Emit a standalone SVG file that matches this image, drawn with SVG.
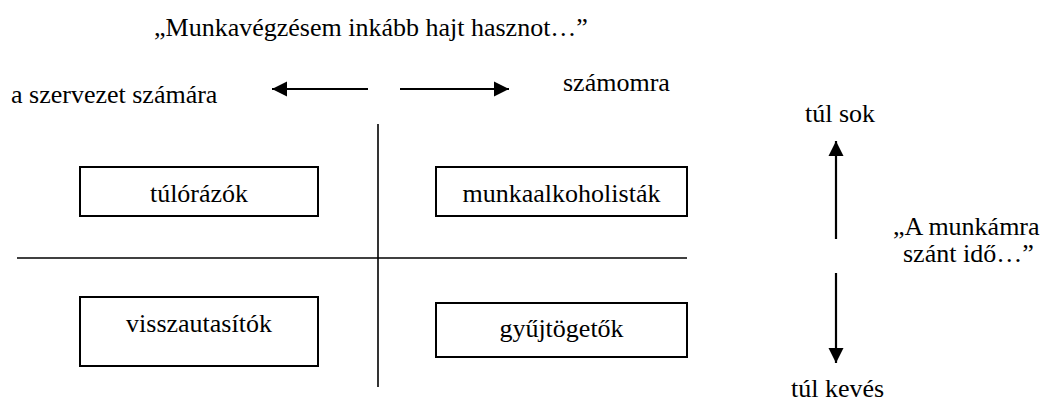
<svg xmlns="http://www.w3.org/2000/svg" width="1048" height="403" viewBox="0 0 1048 403">
  <style>
    .box { fill: #fff; stroke: #000; stroke-width: 2; }
    .axis { stroke: #000; stroke-width: 1.6; fill: none; }
    .arrow { stroke: #000; stroke-width: 2.2; fill: none; }
    .head { fill: #000; stroke: none; }
  </style>
  <defs>
    <marker id="head" markerUnits="userSpaceOnUse" viewBox="0 0 16 16" markerWidth="16" markerHeight="16" refX="15" refY="8" orient="auto">
      <path class="head" d="M0,0.5 L15,8 L0,15.5 Z"/>
    </marker>
  </defs>

  <rect width="1048" height="403" fill="#fff"/>

  <g font-family="Liberation Serif, DejaVu Serif, serif" font-size="26" fill="#000">
    <!-- heading and axis captions -->
    <text x="154" y="36">„Munkavégzésem inkább hajt hasznot…”</text>
    <text x="11" y="103">a szervezet számára</text>
    <text x="563" y="91">számomra</text>
    <text x="805" y="122">túl sok</text>
    <text x="893" y="235">„A munkámra</text>
    <text x="903" y="262">szánt idő…”</text>
    <text x="791" y="397">túl kevés</text>

    <!-- quadrant axes and direction arrows -->
    <g id="connectors">
      <line class="axis" x1="17" y1="258" x2="687" y2="258"/>
      <line class="axis" x1="378" y1="124" x2="378" y2="387"/>
      <line class="arrow" x1="368" y1="89" x2="272" y2="89" marker-end="url(#head)"/>
      <line class="arrow" x1="400" y1="89" x2="509" y2="89" marker-end="url(#head)"/>
      <line class="arrow" x1="836" y1="239" x2="836" y2="141" marker-end="url(#head)"/>
      <line class="arrow" x1="836" y1="273" x2="836" y2="363" marker-end="url(#head)"/>
    </g>

    <g id="tulorazok">
      <rect class="box" x="80" y="167" width="238" height="49"/>
      <text x="199" y="202" text-anchor="middle">túlórázók</text>
    </g>
    <g id="munkaalkoholistak">
      <rect class="box" x="436" y="167" width="251" height="49"/>
      <text x="561.5" y="202" text-anchor="middle">munkaalkoholisták</text>
    </g>
    <g id="visszautasitok">
      <rect class="box" x="80" y="297" width="238" height="69"/>
      <text x="199" y="332" text-anchor="middle">visszautasítók</text>
    </g>
    <g id="gyujtogetok">
      <rect class="box" x="436" y="303" width="251" height="54"/>
      <text x="561.5" y="337" text-anchor="middle">gyűjtögetők</text>
    </g>
  </g>
</svg>
